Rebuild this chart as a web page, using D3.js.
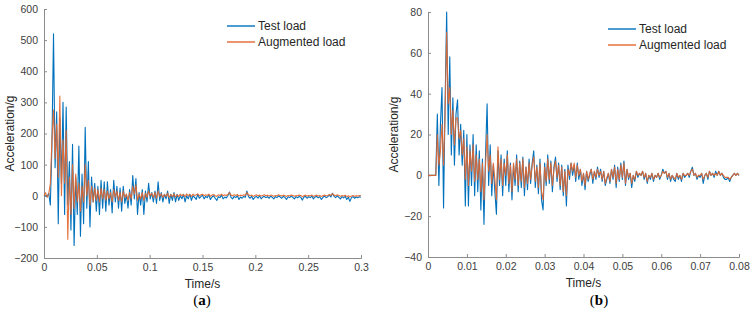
<!DOCTYPE html>
<html>
<head>
<meta charset="utf-8">
<script src="https://cdn.jsdelivr.net/npm/d3@7"></script>
<style>
  body { margin: 0; background: #fff; }
  svg { display: block; }
</style>
</head>
<body>
<div id="chart"></div>
<script>
// ---- data: panel (a), sample step 0.0015 s ----
const stepA = 0.0015;
const testA = [
  0, 0, -3, 8, -30, 160, 520, 90, 270, -90, 250, 40, 300, -60, 285, -30, 110, -110, 165, -160,
  60, -60, 160, -130, 70, -90, 220, -40, 110, -100, 60, -20, 40, -50, 30, -60, 50, -40, 45, -50,
  45, -30, 20, -55, 50, -20, 30, -40, 25, -50, 30, -25, 5, -40, 20, -30, 65, -10, 55, -60,
  10, -30, 20, -60, 15, -20, 40, -10, 10, -20, 15, -25, 45, -15, 10, -20, 5, -10, 15, -25,
  5, -15, 10, -20, 5, -15, 0, -10, 5, -20, 0, -10, 5, -15, 0, -5, -12, 5, -8, -3,
  2, -10, -2, -6, 3, -12, -4, 0, -8, -15, -3, -6, 2, -10, -4, -7, 0, 12, -5, -10,
  -2, -6, 0, -12, -4, -8, -2, -5, 15, -3, -8, -2, -12, -5, -2, -8, 0, -10, -4, -2,
  -6, -3, -8, -1, -5, -10, -3, -6, 0, -4, -8, -2, -5, -12, -3, -6, -1, -5, -10, -3,
  -7, -2, -5, -14, -4, -2, -8, -3, -6, -1, -10, -4, -2, -7, -3, -12, -5, -1, -6, -3,
  2, -4, 8, -2, -6, 0, -5, -10, -3, -7, -2, -12, -5, -18, -6, -3, -8, -4, -6, -3, -5
];
const augA = [
  0, 10, -5, 5, 40, 180, 275, 120, 230, 60, 320, 0, 180, 40, 210, -140, 60, -60, 100, -40,
  70, -20, 40, -50, 30, -20, 100, 0, 50, -30, 30, -20, 25, -15, 20, -20, 25, -10, 20, -15,
  15, -10, 10, -20, 20, -5, 15, -15, 10, -20, 15, -5, 5, -15, 10, -10, 30, 5, 35, -15,
  5, -10, 10, -15, 8, -5, 15, 0, 8, -5, 10, -8, 15, -2, 6, -5, 4, -2, 8, -6,
  4, -3, 6, -4, 3, -2, 5, 0, 4, -3, 6, 0, 4, -2, 5, 1, 3, 6, 0, 3,
  5, 0, 3, 1, 5, -2, 2, 4, 0, -2, 3, 1, 5, 0, 3, 1, 4, 10, 2, 0,
  3, 1, 4, -1, 2, 0, 3, 1, 10, 3, 0, 2, -2, 1, 3, 0, 2, -1, 1, 3,
  0, 2, -1, 2, 1, -2, 1, 0, 3, 1, -1, 2, 0, -2, 1, 0, 2, 1, -2, 1,
  0, 2, 1, -3, 0, 2, -1, 1, 0, 2, -2, 0, 2, -1, 1, -2, 0, 2, 0, 1,
  4, 1, 7, 2, 0, 3, 1, -2, 1, -1, 2, -3, 0, -4, -1, 1, -2, 0, -1, 1, 0
];
const xTicksA = [0, 0.05, 0.1, 0.15, 0.2, 0.25, 0.3];
const yTicksA = [-200, -100, 0, 100, 200, 300, 400, 500, 600];

// ---- data: panel (b), sample step 0.0004 s ----
const stepB = 0.0004;
const testB = [
  0, 0, 0, 0, 0, 0, 30, -5, 25, 43, -16, 36, 80, 20, 58, 10, 38, 5, 30, 37,
  10, 25, 5, 22, -15, 20, -15, 15, -5, 20, -10, 15, -8, 12, -17, 8, -24, 10, 35, -5,
  15, -10, 5, -8, -19, 12, -5, 10, -10, 8, -5, 12, -8, 6, -12, 5, -5, 10, -8, 7,
  -6, 9, -10, 4, -7, 8, -4, 6, 12, -6, 5, -9, 8, -12, -17, 6, -5, 10, -4, 7,
  -8, 4, 9, -3, 6, -7, 5, -10, 3, -15, 5, -2, 6, 0, 5, -3, 6, -2, 3, -5,
  1, -7, 2, -3, 0, 3, -4, 2, -2, 4, -1, 3, -3, 2, -5, -2, 1, -4, 3, -2,
  5, -6, 4, -3, 6, -2, 7, -5, 3, -2, 1, -6, 0, -3, 2, -1, 1, 0, 2, -2,
  1, -4, 0, -2, 1, -3, 0, -1, 1, -2, 0, 3, 1, 2, -2, 1, -3, 0, -2, -3,
  1, -2, 0, -3, 1, -1, 0, 1, -1, 2, 4, 0, 1, -2, 0, -1, 1, -4, 0, 1,
  -2, 2, 0, 1, -1, 2, 0, 2, 0, 1, -1, -2, -2, -1, -3, -1, 0, 1, 0, 1, 0
];
const augB = [
  0, 0, 0, 0, 0, 0, 20, 5, 12, 25, 5, 30, 70, 35, 43, 20, 32, 15, 28, 28,
  18, 22, 10, 18, -2, 14, -5, 12, 2, 15, -3, 10, -2, 8, -8, 6, -12, 5, 20, 2,
  10, -4, 6, -2, -12, 14, -2, 8, -5, 6, 0, 10, -4, 5, -8, 6, -2, 8, -5, 6,
  -3, 8, -6, 4, -4, 6, -2, 5, 9, -3, 4, -6, 6, -8, -12, 4, -3, 8, -2, 6,
  -5, 3, 7, -1, 5, -5, 4, -8, 2, -10, 3, 0, 6, 2, 6, -1, 5, 0, 3, -3,
  1, -5, 2, -2, 1, 3, -2, 2, -1, 3, 0, 2, -2, 2, -4, -1, 1, -3, 3, -1,
  4, -4, 3, -2, 5, -1, 6, -4, 3, -1, 1, -4, 0, -2, 2, 0, 1, 0, 2, -1,
  1, -3, 0, -1, 1, -2, 0, -1, 1, -1, 0, 2, 1, 2, -1, 1, -2, 0, -1, -2,
  1, -1, 0, -2, 1, 0, 0, 1, 0, 2, 3, 0, 1, -1, 0, 0, 1, -2, 0, 1,
  -1, 2, 0, 1, 0, 1, 0, 2, 0, 1, 0, -1, -1, -1, -2, -1, 0, 1, 0, 1, 0
];
const xTicksB = [0, 0.01, 0.02, 0.03, 0.04, 0.05, 0.06, 0.07, 0.08];
const yTicksB = [-40, -20, 0, 20, 40, 60, 80];

const seriesNames = ["Test load", "Augmented load"];
const seriesColors = ["#0072BD", "#E4672E"];

const width = 752, height = 315;
const svg = d3.create("svg").attr("width", width).attr("height", height);

function drawPanel(p) {
  const x = d3.scaleLinear().domain(p.xDomain).range([p.left, p.right]);
  const y = d3.scaleLinear().domain(p.yDomain).range([p.bottom, p.top]);
  const g = svg.append("g");

  // axes (MATLAB style: ticks inward, grey)
  const xAxis = g.append("g")
    .attr("transform", `translate(0,${p.bottom})`)
    .call(d3.axisBottom(x).tickValues(p.xTicks).tickSize(-3).tickPadding(6)
      .tickFormat(d => d3.format("")(+d.toFixed(3))));
  const yAxis = g.append("g")
    .attr("transform", `translate(${p.left},0)`)
    .call(d3.axisLeft(y).tickValues(p.yTicks).tickSize(-3).tickPadding(6)
      .tickFormat(d => d < 0 ? "\u2212" + Math.abs(d) : d));
  [xAxis, yAxis].forEach(a => {
    a.select(".domain").attr("stroke", "#8c8c8c");
    a.selectAll(".tick line").attr("stroke", "#8c8c8c");
    a.selectAll(".tick text").attr("fill", "#404040")
      .attr("font-family", "Liberation Sans, Arial, sans-serif").attr("font-size", 10.5);
  });

  // lines
  const line = d3.line().x((d, i) => x(i * p.step)).y(d => y(d));
  [p.test, p.aug].forEach((vals, k) => {
    g.append("path").datum(vals)
      .attr("fill", "none")
      .attr("stroke", seriesColors[k])
      .attr("stroke-width", 1.1)
      .attr("stroke-opacity", k === 1 ? 0.92 : 1)
      .attr("stroke-linejoin", "round")
      .attr("d", line);
  });

  // legend
  seriesNames.forEach((name, k) => {
    const ly = p.legY + k * 16;
    g.append("line").attr("x1", p.legX).attr("x2", p.legX + 28)
      .attr("y1", ly).attr("y2", ly)
      .attr("stroke", seriesColors[k]).attr("stroke-width", 1.4);
    g.append("text").attr("x", p.legX + 31).attr("y", ly + 4)
      .attr("font-family", "Liberation Sans, Arial, sans-serif").attr("font-size", 12)
      .attr("fill", "#262626").text(name);
  });

  // axis titles
  g.append("text")
    .attr("transform", `translate(${p.left - 30},${(p.top + p.bottom) / 2}) rotate(-90)`)
    .attr("text-anchor", "middle")
    .attr("font-family", "Liberation Sans, Arial, sans-serif").attr("font-size", 12)
    .attr("fill", "#262626").text("Acceleration/g");
  g.append("text")
    .attr("x", (p.left + p.right) / 2).attr("y", p.bottom + 30)
    .attr("text-anchor", "middle")
    .attr("font-family", "Liberation Sans, Arial, sans-serif").attr("font-size", 12)
    .attr("fill", "#262626").text("Time/s");

  // panel tag
  const tag = g.append("text")
    .attr("x", p.tagX).attr("y", 305)
    .attr("text-anchor", "middle")
    .attr("font-family", "Liberation Serif, Times New Roman, serif").attr("font-size", 15)
    .attr("fill", "#000");
  tag.append("tspan").text("(");
  tag.append("tspan").attr("font-weight", "bold").text(p.tag);
  tag.append("tspan").text(")");
}

drawPanel({
  left: 44, right: 361, top: 9, bottom: 258,
  xDomain: [0, 0.3], yDomain: [-200, 600],
  xTicks: xTicksA, yTicks: yTicksA,
  step: stepA, test: testA, aug: augA,
  legX: 227, legY: 26, tagX: 202, tag: "a"
});
drawPanel({
  left: 428, right: 739, top: 12, bottom: 257,
  xDomain: [0, 0.08], yDomain: [-40, 80],
  xTicks: xTicksB, yTicks: yTicksB,
  step: stepB, test: testB, aug: augB,
  legX: 608, legY: 29, tagX: 599, tag: "b"
});

document.getElementById("chart").appendChild(svg.node());
</script>
</body>
</html>
